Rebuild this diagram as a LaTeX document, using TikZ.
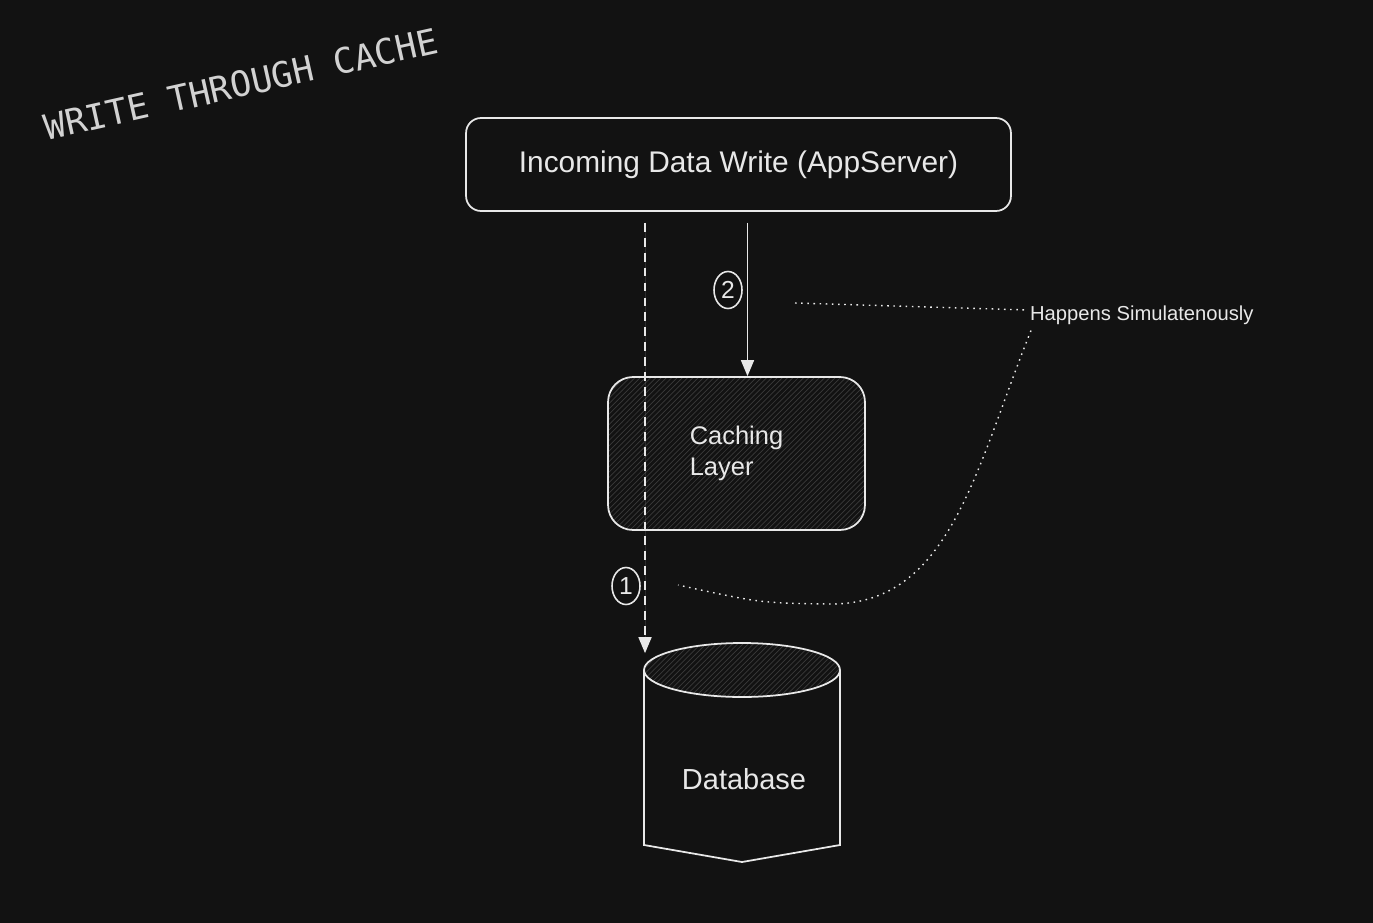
\documentclass[tikz,border=0pt]{standalone}
\usepackage{fontspec}
\setmainfont{Liberation Sans}
\setmonofont{DejaVu Sans Mono}
\usetikzlibrary{arrows.meta,positioning,calc,patterns,shapes.geometric}
\definecolor{wtbg}{HTML}{121212}
\definecolor{wtink}{HTML}{E8E8E8}
\definecolor{wttitle}{HTML}{D2D2D2}
\definecolor{wthatch}{HTML}{3A3A3A}
\tikzset{
  flowarrow/.style={-{Triangle[length=3.2mm,width=2.6mm]}, line width=0.9pt, draw=wtink, fill=wtink},
  writearrow/.style={flowarrow, dash pattern=on 5pt off 3.5pt},
  linkdots/.style={draw=wtink!85, line width=0.8pt, dash pattern=on 0.9pt off 2.6pt},
  appbox/.style={draw=wtink, rounded corners=0.3cm, line width=1pt, text=wtink,
    minimum width=10.9cm, minimum height=1.86cm, font=\fontsize{17}{20}\selectfont},
  cachebox/.style={draw=wtink, rounded corners=0.5cm, line width=1pt, text=wtink,
    pattern=north east lines, pattern color=wthatch, align=left,
    minimum width=5.14cm, minimum height=3.06cm, font=\fontsize{14.5}{18}\selectfont},
  dbbox/.style={draw=none, minimum width=3.92cm, minimum height=4.38cm},
  dbline/.style={draw=wtink, line width=1pt},
  dbtext/.style={text=wtink, font=\fontsize{16.5}{20}\selectfont},
  steplabel/.style={ellipse, draw=wtink, line width=0.9pt, text=wtink, inner sep=0pt,
    minimum width=0.56cm, minimum height=0.74cm, font=\fontsize{14}{16}\selectfont},
  smallnote/.style={text=wtink, inner sep=1pt, font=\fontsize{11.5}{13}\selectfont},
  titletext/.style={text=wttitle, font=\ttfamily\fontsize{20}{24}\selectfont}
}

\begin{document}
\begin{tikzpicture}[x=0.02cm, y=-0.02cm]
  \fill[wtbg] (0,0) rectangle (1373,923);
  \useasboundingbox (0,0) rectangle (1373,923);

  \node[titletext, rotate=12.6] (title) at (241,84) {WRITE THROUGH CACHE};

  \node[appbox] (app) at (738.5,164.5) {Incoming Data Write (AppServer)};
  \node[cachebox] (cache) at (736.5,453.5) {Caching\\Layer};
  \node[dbbox] (db) at (742,752) {};

  % database cylinder
  \draw[dbline] (644,670) -- (644,845) -- (742,862) -- (840,845) -- (840,670);
  \draw[dbline, pattern=north east lines, pattern color=wthatch]
    (742,670) ellipse [x radius=1.96cm, y radius=0.54cm];
  \node[dbtext] (dblabel) at (744,779) {Database};

  \coordinate (wr1) at ([xshift=-1.87cm,yshift=-0.22cm]app.south);
  \coordinate (wr2) at ([xshift=0.18cm,yshift=-0.22cm]app.south);

  \draw[writearrow] (wr1) -- ([yshift=-0.22cm]db.north -| wr1);
  \draw[flowarrow] (wr2) -- (cache.north -| wr2);

  \node[steplabel] (two) at (728,290) {2};
  \node[steplabel] (one) at (626,586) {1};

  \node[smallnote, anchor=west] (note) at (1028,315) {Happens Simulatenously};
  \draw[linkdots] (795,303) -- ([yshift=0.1cm]note.west);
  \draw[linkdots] ([xshift=0.06cm,yshift=-0.08cm]note.south west)
    .. controls (975,470) and (950,605) .. (830,604)
    .. controls (760,603) .. (678,585);
\end{tikzpicture}
\end{document}
